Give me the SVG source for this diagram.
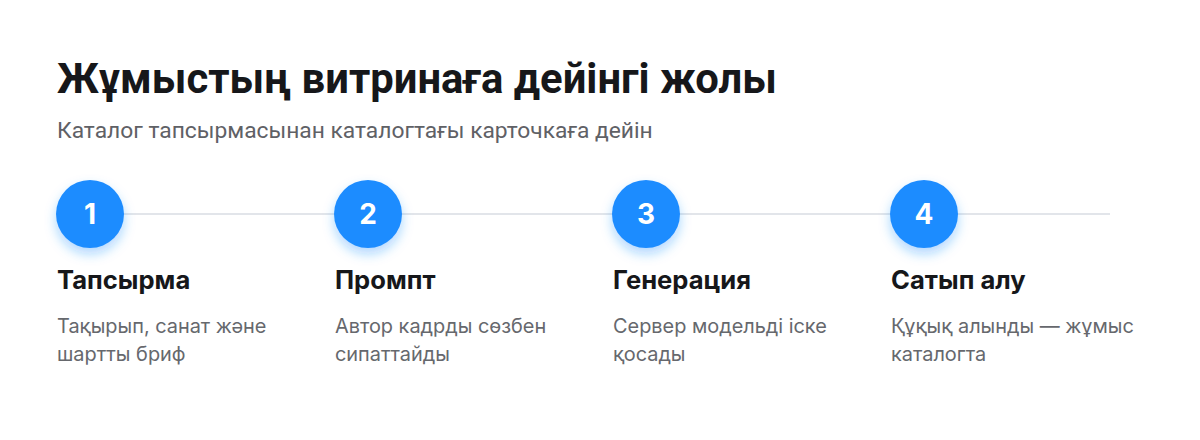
<svg xmlns="http://www.w3.org/2000/svg" width="1200" height="440" viewBox="0 0 1200 440">
<defs>
<filter id="sh" x="-50%" y="-50%" width="200%" height="220%">
<feDropShadow dx="0" dy="6" stdDeviation="6" flood-color="#1e8fff" flood-opacity="0.35"/>
</filter>
<style>
.title{font-family:Roboto,"Liberation Sans",sans-serif;font-weight:700;font-size:41.8px;fill:#16171a}
.sub{font-family:Roboto,"Liberation Sans",sans-serif;font-size:22.8px;fill:#5f6166}
.circ{fill:#1e8cff;filter:url(#sh)}
.num{font-family:Inter,"Liberation Sans",sans-serif;font-weight:700;font-size:28px;fill:#ffffff;text-anchor:middle}
.st{font-family:Inter,"Liberation Sans",sans-serif;font-weight:700;font-size:25.6px;fill:#16171a}
.ds{font-family:Inter,"Liberation Sans",sans-serif;font-size:19.9px;fill:#66686d}
</style>
</defs>
<rect width="1200" height="440" fill="#ffffff"/>
<text class="title" x="57" y="93">Жұмыстың витринаға дейінгі жолы</text>
<text class="sub" x="57" y="138">Каталог тапсырмасынан каталогтағы карточкаға дейін</text>
<g id="connectors">
<line x1="90" y1="214" x2="1110" y2="214" stroke="#e2e5ea" stroke-width="2"/>
</g>
<g id="step1">
<circle class="circ" cx="90" cy="214" r="34"/>
<text class="num" x="90" y="224">1</text>
<text class="st" x="57" y="289">Тапсырма</text>
<text class="ds" x="57" y="333">Тақырып, санат және</text>
<text class="ds" x="57" y="361">шартты бриф</text>
</g>
<g id="step2">
<circle class="circ" cx="368" cy="214" r="34"/>
<text class="num" x="368" y="224">2</text>
<text class="st" x="335" y="289">Промпт</text>
<text class="ds" x="335" y="333">Автор кадрды сөзбен</text>
<text class="ds" x="335" y="361">сипаттайды</text>
</g>
<g id="step3">
<circle class="circ" cx="646" cy="214" r="34"/>
<text class="num" x="646" y="224">3</text>
<text class="st" x="613" y="289">Генерация</text>
<text class="ds" x="613" y="333">Сервер модельді іске</text>
<text class="ds" x="613" y="361">қосады</text>
</g>
<g id="step4">
<circle class="circ" cx="924" cy="214" r="34"/>
<text class="num" x="924" y="224">4</text>
<text class="st" x="891" y="289">Сатып алу</text>
<text class="ds" x="891" y="333">Құқық алынды — жұмыс</text>
<text class="ds" x="891" y="361">каталогта</text>
</g>
</svg>
